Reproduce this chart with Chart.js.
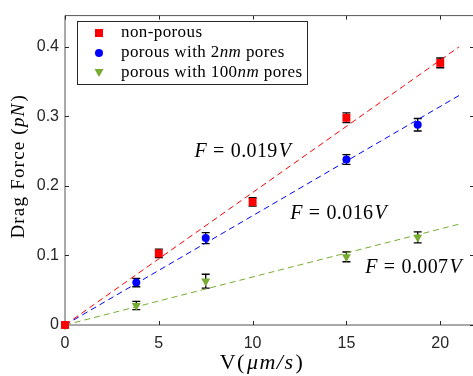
<!DOCTYPE html>
<html><head><meta charset="utf-8">
<script src="https://cdn.jsdelivr.net/npm/chart.js@4"></script>
<style>html,body{margin:0;padding:0;overflow:hidden;background:#fff;width:473px;height:376px}canvas{display:block}</style>
</head><body><canvas id="c" width="480" height="376"></canvas>
<script>
const xTicks=[0,5,10,15,20];
const yTicks=[0,0.1,0.2,0.3,0.4];
const nonPorousX=[0,5,10,15,20];
const nonPorousY=[0,0.103,0.177,0.298,0.377];
const nonPorousErr=[0,0.006,0.006,0.007,0.007];
const pores2X=[0,3.8,7.5,15,18.8];
const pores2Y=[0,0.061,0.125,0.238,0.288];
const pores2Err=[0,0.006,0.008,0.007,0.009];
const pores100X=[0,3.8,7.5,15,18.8];
const pores100Y=[0,0.028,0.063,0.098,0.126];
const pores100Err=[0,0.006,0.010,0.007,0.008];
const fitX=[0,21];
const fitNonPorous=[0,0.400];
const fitPores2=[0,0.330];
const fitPores100=[0,0.145];
const seriesLabels=['non-porous','porous with 2nm pores','porous with 100nm pores'];

const RED='#ff0000',BLUE='#0000ff',GREEN='#77ac30',INK='#262626';
const SANS='"Liberation Sans", Arial, sans-serif';
const SERIF='"Liberation Serif", "Times New Roman", serif';

const pts=(xs,ys)=>xs.map((x,i)=>({x,y:ys[i]}));

// segs: [text, italic, gapAfter]; ls = letter spacing
function segWidth(ctx,t,ls){return ctx.measureText(t).width+ls*t.length;}
function drawRich(ctx,segs,x,y,size,align,ls){
  ls=ls||0;
  let w=0;
  segs.forEach(s=>{ctx.font=(s[1]?'italic ':'')+size+'px '+SERIF;w+=segWidth(ctx,s[0],ls)+(s[2]||0);});
  let cx=align==='center'?x-w/2:x;
  ctx.textAlign='left';
  segs.forEach(s=>{
    ctx.font=(s[1]?'italic ':'')+size+'px '+SERIF;
    for(const ch of s[0]){ctx.fillText(ch,cx,y);cx+=ctx.measureText(ch).width+ls;}
    cx+=(s[2]||0);
  });
}

const errSets=[
  {xs:nonPorousX,ys:nonPorousY,es:nonPorousErr},
  {xs:pores2X,ys:pores2Y,es:pores2Err},
  {xs:pores100X,ys:pores100Y,es:pores100Err}
];

const decor={
  id:'decor',
  beforeDatasetsDraw(chart){
    const {ctx,chartArea:a,scales:{x,y}}=chart;
    ctx.save();
    ctx.strokeStyle='#555';ctx.lineWidth=1;
    ctx.beginPath();
    ctx.moveTo(a.left,a.top);ctx.lineTo(a.right,a.top);ctx.lineTo(a.right,a.bottom);ctx.lineTo(a.left,a.bottom);ctx.closePath();
    ctx.stroke();
    ctx.strokeStyle=INK;
    ctx.beginPath();
    xTicks.forEach(v=>{const p=Math.round(x.getPixelForValue(v))+0.5;ctx.moveTo(p,a.bottom);ctx.lineTo(p,a.bottom-4);ctx.moveTo(p,a.top);ctx.lineTo(p,a.top+4);});
    yTicks.forEach(v=>{const p=Math.round(y.getPixelForValue(v))+0.5;ctx.moveTo(a.left,p);ctx.lineTo(a.left+4,p);ctx.moveTo(a.right,p);ctx.lineTo(a.right-4,p);});
    ctx.stroke();
    ctx.strokeStyle='#000';ctx.lineWidth=1.3;
    errSets.forEach(s=>{
      s.xs.forEach((xv,i)=>{
        const e=s.es[i]; if(!e) return;
        const px=x.getPixelForValue(xv),y1=y.getPixelForValue(s.ys[i]+e),y2=y.getPixelForValue(s.ys[i]-e);
        ctx.beginPath();
        ctx.moveTo(px,y1);ctx.lineTo(px,y2);
        ctx.moveTo(px-4,y1);ctx.lineTo(px+4,y1);
        ctx.moveTo(px-4,y2);ctx.lineTo(px+4,y2);
        ctx.stroke();
      });
    });
    ctx.restore();
  },
  afterDatasetsDraw(chart){
    const {ctx,chartArea:a,scales:{x,y}}=chart;
    ctx.save();
    ctx.fillStyle='#000';ctx.textBaseline='middle';
    const eq=v=>[['F',true,6],['=',false,6],[v,false,1],['V',true]];
    drawRich(ctx,eq('0.019'),x.getPixelForValue(6.9),y.getPixelForValue(0.249),20,'left',0.4);
    drawRich(ctx,eq('0.016'),x.getPixelForValue(12.0),y.getPixelForValue(0.160),20,'left',0.4);
    drawRich(ctx,eq('0.007'),x.getPixelForValue(16.0),y.getPixelForValue(0.082),20,'left',0.4);
    // legend
    const L=77.5,T=21.5,W=230,H=63;
    ctx.fillStyle='#fff';ctx.fillRect(L,T,W,H);
    ctx.strokeStyle=INK;ctx.lineWidth=1;ctx.strokeRect(L,T,W,H);
    const rows=[33,53,72.5],mx=99,tx=121;
    ctx.fillStyle=RED;ctx.fillRect(mx-4,rows[0]-4,8,8);
    ctx.fillStyle=BLUE;ctx.beginPath();ctx.arc(mx,rows[1],4,0,Math.PI*2);ctx.fill();
    ctx.fillStyle=GREEN;ctx.beginPath();ctx.moveTo(mx-4.5,rows[2]-3.5);ctx.lineTo(mx+4.5,rows[2]-3.5);ctx.lineTo(mx,rows[2]+4.5);ctx.closePath();ctx.fill();
    ctx.fillStyle='#000';
    drawRich(ctx,[[seriesLabels[0],false]],tx,rows[0],17,'left',0.4);
    drawRich(ctx,[['porous with 2',false],['nm',true],[' pores',false]],tx,rows[1],17,'left',0.4);
    drawRich(ctx,[['porous with 100',false],['nm',true],[' pores',false]],tx,rows[2],17,'left',0.4);
    // axis titles
    drawRich(ctx,[['V(',false,1],['\u03BCm/s',true,1],[')',false]],262,363,22,'center',1.5);
    ctx.translate(19,(a.top+a.bottom)/2-4);ctx.rotate(-Math.PI/2);
    drawRich(ctx,[['Drag Force (',false],['pN',true,1],[')',false]],0,0,19,'center',1.2);
    ctx.restore();
  }
};

new Chart(document.getElementById('c'),{
  type:'scatter',
  data:{datasets:[
    {label:seriesLabels[0],data:pts(nonPorousX,nonPorousY),pointStyle:'rect',pointRadius:5.6,backgroundColor:RED,borderColor:RED,borderWidth:0,clip:false,order:1},
    {label:seriesLabels[1],data:pts(pores2X,pores2Y),pointStyle:'circle',pointRadius:4,backgroundColor:BLUE,borderColor:BLUE,borderWidth:0,clip:false,order:1},
    {label:seriesLabels[2],data:pts(pores100X,pores100Y),pointStyle:'triangle',rotation:180,pointRadius:5.2,backgroundColor:GREEN,borderColor:GREEN,borderWidth:0,clip:false,order:1},
    {type:'line',label:'fit1',data:pts(fitX,fitNonPorous),borderColor:RED,borderDash:[6,4],borderWidth:1,pointRadius:0,fill:false,order:5},
    {type:'line',label:'fit2',data:pts(fitX,fitPores2),borderColor:BLUE,borderDash:[6,4],borderWidth:1,pointRadius:0,fill:false,order:5},
    {type:'line',label:'fit3',data:pts(fitX,fitPores100),borderColor:GREEN,borderDash:[6,4],borderWidth:1,pointRadius:0,fill:false,order:5}
  ]},
  options:{
    responsive:false,animation:false,
    layout:{padding:{top:11,right:6,left:0,bottom:0}},
    plugins:{legend:{display:false},tooltip:{enabled:false}},
    scales:{
      x:{type:'linear',min:0,max:21.8,
        afterBuildTicks:s=>{s.ticks=xTicks.map(v=>({value:v}));},
        afterFit:s=>{s.height=51;},
        grid:{display:false,drawTicks:false},border:{display:false},
        ticks:{font:{family:SANS,size:16},color:INK,padding:9,maxRotation:0,callback:v=>String(v)}},
      y:{type:'linear',min:0,max:0.445,
        afterBuildTicks:s=>{s.ticks=yTicks.map(v=>({value:v}));},
        afterFit:s=>{s.width=65;},
        grid:{display:false,drawTicks:false},border:{display:false},
        ticks:{font:{family:SANS,size:16},color:INK,padding:6,callback:v=>String(v)}}
    }
  },
  plugins:[decor]
});
</script></body></html>
